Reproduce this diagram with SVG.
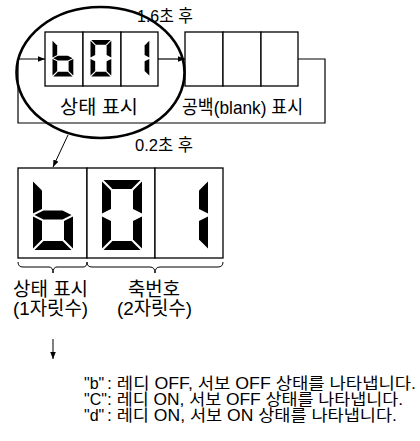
<svg xmlns="http://www.w3.org/2000/svg" xmlns:xlink="http://www.w3.org/1999/xlink" width="420" height="441" viewBox="0 0 420 441">
<style>
.box{fill:#fff;stroke:#000;stroke-width:1.3}
.ln{fill:none;stroke:#000;stroke-width:1.2}
.thin{fill:none;stroke:#000;stroke-width:1}
.seg{fill:#000}
text{font-family:"Liberation Sans","Noto Sans CJK KR",sans-serif;fill:#000}
.t18{font-size:19px}
.t17{font-size:17px}
.t15{font-size:16px}
</style>
<defs>
<marker id="ah" viewBox="0 0 10 10" refX="10" refY="5" markerWidth="7" markerHeight="7" orient="auto" markerUnits="userSpaceOnUse">
<path d="M0,1 L10,5 L0,9 Z" fill="#000"/>
</marker>
<polygon id="sa" class="seg" points="1.5,0 38.5,0 29.5,9 10.5,9"/>
<polygon id="sb" class="seg" points="40,1.5 40,33.5 31,29 31,10.5"/>
<polygon id="sc" class="seg" points="40,36.5 40,68.5 31,59.5 31,41"/>
<polygon id="sd" class="seg" points="1.5,70 38.5,70 29.5,61 10.5,61"/>
<polygon id="se" class="seg" points="0,36.5 9,41 9,59.5 0,68.5"/>
<polygon id="sf" class="seg" points="0,1.5 9,10.5 9,29 0,33.5"/>
<polygon id="sg" class="seg" points="1.5,35 10.5,30.5 29.5,30.5 38.5,35 29.5,39.5 10.5,39.5"/>
<g id="dig-b"><use xlink:href="#sf"/><use xlink:href="#se"/><use xlink:href="#sd"/><use xlink:href="#sc"/><use xlink:href="#sg"/></g>
<g id="dig-0"><use xlink:href="#sa"/><use xlink:href="#sb"/><use xlink:href="#sc"/><use xlink:href="#sd"/><use xlink:href="#se"/><use xlink:href="#sf"/></g>
<g id="dig-1"><use xlink:href="#sb"/><use xlink:href="#sc"/></g>
</defs>

<g id="connectors">
<line class="ln" x1="158" y1="59" x2="185" y2="59" marker-end="url(#ah)"/>
<polyline class="ln" points="298,59 325,59 325,123 18,123 18,59 45,59" marker-end="url(#ah)"/>
<line class="thin" x1="68" y1="135" x2="53" y2="167" marker-end="url(#ah)"/>
<line class="thin" x1="53" y1="339" x2="53" y2="359" marker-end="url(#ah)"/>
</g>

<g id="status-display">
<rect class="box" x="45" y="32" width="38" height="54"/>
<rect class="box" x="83" y="32" width="38" height="54"/>
<rect class="box" x="121" y="32" width="37" height="54"/>
<use xlink:href="#dig-b" transform="translate(52.5,40) scale(0.52)"/>
<use xlink:href="#dig-0" transform="translate(90.5,40) scale(0.52)"/>
<use xlink:href="#dig-1" transform="translate(128.5,40) scale(0.52)"/>
<text class="t18" x="60" y="114" textLength="78" lengthAdjust="spacingAndGlyphs">상태 표시</text>
</g>

<g id="blank-display">
<rect class="box" x="185" y="32" width="38" height="54"/>
<rect class="box" x="223" y="32" width="38" height="54"/>
<rect class="box" x="261" y="32" width="37" height="54"/>
<text class="t18" x="182" y="114" textLength="121" lengthAdjust="spacingAndGlyphs">공백(blank) 표시</text>
</g>

<g id="highlight">
<ellipse cx="100.5" cy="72.5" rx="84" ry="65.5" fill="none" stroke="#000" stroke-width="2.6"/>
</g>

<g id="labels">
<text class="t17" x="137" y="22" textLength="56" lengthAdjust="spacingAndGlyphs">1.6초 후</text>
<text class="t17" x="135" y="151" textLength="58" lengthAdjust="spacingAndGlyphs">0.2초 후</text>
</g>

<g id="large-display">
<rect class="box" x="18" y="168" width="69" height="90"/>
<rect class="box" x="87" y="168" width="68" height="90"/>
<rect class="box" x="155" y="168" width="68" height="90"/>
<use xlink:href="#dig-b" transform="translate(33,180)"/>
<use xlink:href="#dig-0" transform="translate(102,180)"/>
<use xlink:href="#dig-1" transform="translate(168,180)"/>
</g>

<g id="braces">
<path class="thin" d="M18,262 Q18,267 23,267 L49,267 Q53,267 53,273 Q53,267 57,267 L83,267 Q87,267 87,262"/>
<path class="thin" d="M87,262 Q87,267 92,267 L150,267 Q155,267 155,273 Q155,267 160,267 L218,267 Q223,267 223,262"/>
</g>

<g id="brace-labels">
<text class="t18" x="13" y="296" textLength="75" lengthAdjust="spacingAndGlyphs">상태 표시</text>
<text class="t18" x="13" y="315" textLength="75" lengthAdjust="spacingAndGlyphs">(1자릿수)</text>
<text class="t18" x="128" y="296" textLength="52" lengthAdjust="spacingAndGlyphs">축번호</text>
<text class="t18" x="117" y="315" textLength="75" lengthAdjust="spacingAndGlyphs">(2자릿수)</text>
</g>

<g id="legend">
<text class="t15" x="84" y="389">"b"</text>
<text class="t15" x="107" y="389" textLength="309" lengthAdjust="spacingAndGlyphs">: 레디 OFF, 서보 OFF 상태를 나타냅니다.</text>
<text class="t15" x="84" y="405">"C"</text>
<text class="t15" x="107" y="405" textLength="296" lengthAdjust="spacingAndGlyphs">: 레디 ON, 서보 OFF 상태를 나타냅니다.</text>
<text class="t15" x="84" y="421">"d"</text>
<text class="t15" x="107" y="421" textLength="290" lengthAdjust="spacingAndGlyphs">: 레디 ON, 서보 ON 상태를 나타냅니다.</text>
</g>
</svg>
